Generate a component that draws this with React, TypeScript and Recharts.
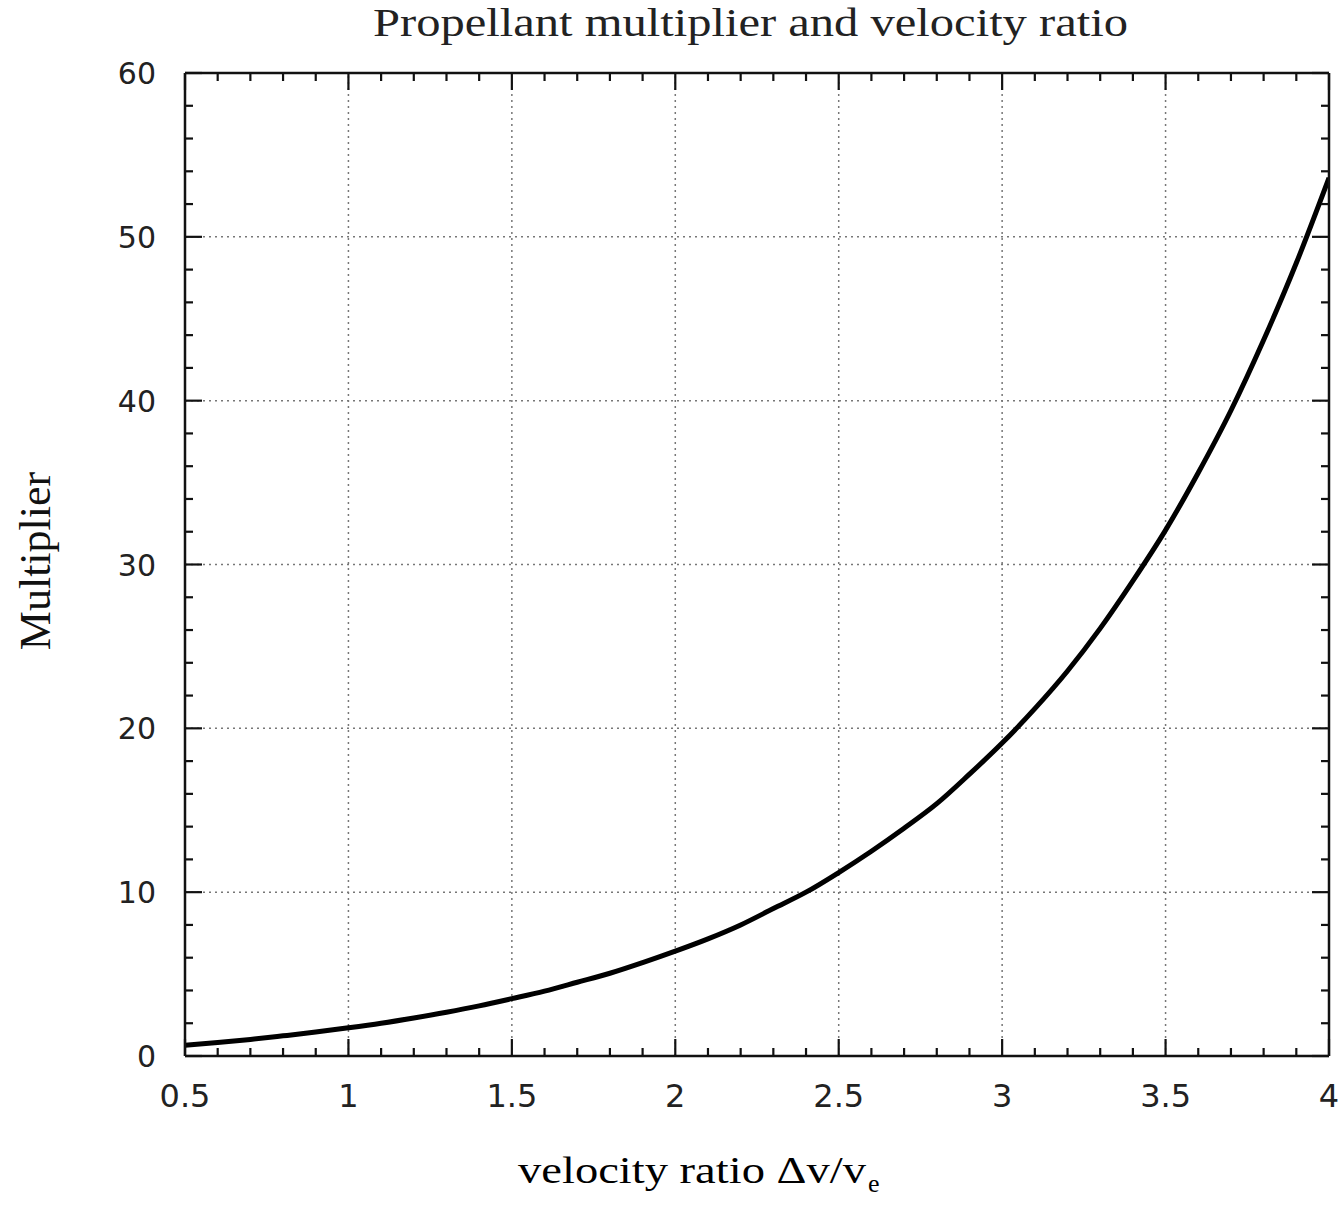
import { LineChart, Line, XAxis, YAxis, ReferenceLine } from 'recharts';

// values
const ratio = [0.5, 0.6, 0.7, 0.8, 0.9, 1.0, 1.1, 1.2, 1.3, 1.4, 1.5, 1.6, 1.7, 1.8, 1.9, 2.0, 2.1, 2.2, 2.3, 2.4,
  2.5, 2.6, 2.7, 2.8, 2.9, 3.0, 3.1, 3.2, 3.3, 3.4, 3.5, 3.6, 3.7, 3.8, 3.9, 4.0];
const multiplier = [0.65, 0.82, 1.01, 1.23, 1.46, 1.72, 2.0, 2.32, 2.67, 3.06, 3.5, 3.96, 4.5, 5.05, 5.7, 6.4, 7.15, 8.0, 9.0, 10.0,
  11.2, 12.5, 13.9, 15.4, 17.2, 19.1, 21.2, 23.5, 26.1, 29.0, 32.1, 35.6, 39.4, 43.7, 48.4, 53.6];

const xTicks = [0.5, 0.6, 0.7, 0.8, 0.9, 1, 1.1, 1.2, 1.3, 1.4, 1.5, 1.6, 1.7, 1.8, 1.9, 2, 2.1, 2.2, 2.3, 2.4,
  2.5, 2.6, 2.7, 2.8, 2.9, 3, 3.1, 3.2, 3.3, 3.4, 3.5, 3.6, 3.7, 3.8, 3.9, 4];
const xMajor = [0.5, 1, 1.5, 2, 2.5, 3, 3.5, 4];
const yTicks = [0, 2, 4, 6, 8, 10, 12, 14, 16, 18, 20, 22, 24, 26, 28, 30, 32, 34, 36, 38, 40, 42, 44, 46, 48, 50,
  52, 54, 56, 58, 60];
const yMajor = [0, 10, 20, 30, 40, 50, 60];

const data = ratio.map((x, i) => ({ x, m: multiplier[i] }));

const W = 1341;
const H = 1206;
const tickFont = '"DejaVu Sans", sans-serif';
const serif = '"Liberation Serif", "Times New Roman", serif';

type Side = 'bottom' | 'top' | 'left' | 'right';

const makeTick = (side: Side, majors: number[], labels: boolean) => (props: any) => {
  const { x, y, payload } = props;
  const v = payload.value;
  const major = majors.some(m => Math.abs(m - v) < 1e-6);
  const len = major ? 17 : 8;
  let x2 = x;
  let y2 = y;
  if (side === 'bottom') y2 = y - len;
  if (side === 'top') y2 = y + len;
  if (side === 'left') x2 = x + len;
  if (side === 'right') x2 = x - len;
  return (
    <g>
      <line x1={x} y1={y} x2={x2} y2={y2} stroke="#111" strokeWidth={2.2} />
      {labels && major && side === 'bottom' && (
        <text x={x} y={y + 51} textAnchor="middle" fontSize={32} fontFamily={tickFont} fill="#222">
          {String(+v.toFixed(1))}
        </text>
      )}
      {labels && major && side === 'left' && (
        <text x={x - 29} y={y + 11} textAnchor="end" fontSize={30} fontFamily={tickFont} fill="#222">
          {String(v)}
        </text>
      )}
    </g>
  );
};

const axisLine = { stroke: '#111', strokeWidth: 2.5 };

export default function App() {
  return (
    <div style={{ position: 'absolute', left: 0, top: 0, width: W, height: H, background: '#fff' }}>
      <LineChart width={W} height={H} data={data} margin={{ top: 72, right: 11, bottom: 149, left: 184 }}>
        {xMajor.slice(1, -1).map(v => (
          <ReferenceLine key={'gx' + v} x={v} stroke="#777" strokeWidth={1.5} strokeDasharray="2 4" />
        ))}
        {yMajor.slice(1, -1).map(v => (
          <ReferenceLine key={'gy' + v} y={v} stroke="#777" strokeWidth={1.5} strokeDasharray="2 4" />
        ))}
        <XAxis
          dataKey="x"
          type="number"
          domain={[0.5, 4]}
          ticks={xTicks}
          interval={0}
          height={1}
          tickSize={0}
          tickMargin={0}
          axisLine={axisLine}
          tick={makeTick('bottom', xMajor, true)}
          allowDataOverflow
        />
        <XAxis
          xAxisId="top"
          orientation="top"
          dataKey="x"
          type="number"
          domain={[0.5, 4]}
          ticks={xTicks}
          interval={0}
          height={1}
          tickSize={0}
          tickMargin={0}
          axisLine={axisLine}
          tick={makeTick('top', xMajor, false)}
          allowDataOverflow
        />
        <YAxis
          type="number"
          domain={[0, 60]}
          ticks={yTicks}
          interval={0}
          width={1}
          tickSize={0}
          tickMargin={0}
          axisLine={axisLine}
          tick={makeTick('left', yMajor, true)}
          allowDataOverflow
        />
        <YAxis
          yAxisId="right"
          orientation="right"
          type="number"
          domain={[0, 60]}
          ticks={yTicks}
          interval={0}
          width={1}
          tickSize={0}
          tickMargin={0}
          axisLine={axisLine}
          tick={makeTick('right', yMajor, false)}
          allowDataOverflow
        />
        <Line
          dataKey="m"
          type="monotone"
          stroke="#000"
          strokeWidth={5}
          dot={false}
          isAnimationActive={false}
        />
      </LineChart>
      <svg width={W} height={H} style={{ position: 'absolute', left: 0, top: 0, pointerEvents: 'none' }}>
        <text x={373} y={36} fontSize={40} fontFamily={serif} fill="#222" textLength={755} lengthAdjust="spacingAndGlyphs">
          Propellant multiplier and velocity ratio
        </text>
        <text
          x={50}
          y={561}
          transform="rotate(-90 50 561)"
          textAnchor="middle"
          fontSize={44}
          fontFamily={serif}
          fill="#111"
        >
          Multiplier
        </text>
        <text x={518} y={1183} fontSize={38} fontFamily={serif} fill="#000" textLength={348} lengthAdjust="spacingAndGlyphs">
          velocity ratio Δv/v
        </text>
        <text x={868} y={1192} fontSize={26} fontFamily={serif} fill="#000">e</text>
      </svg>
    </div>
  );
}
